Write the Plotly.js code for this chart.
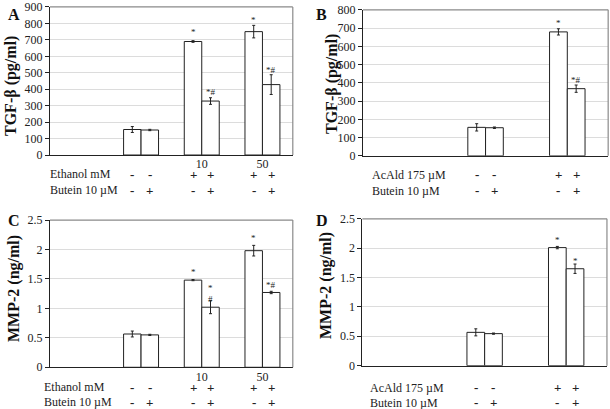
<!DOCTYPE html>
<html><head><meta charset="utf-8">
<script src="https://cdn.plot.ly/plotly-3.0.1.min.js"></script>
<style>html,body{margin:0;padding:0;background:#fff}#chart{width:610px;height:409px}</style>
</head><body><div id="chart"></div>
<script>
// ---------- data ----------
const ethCats = ["none", "control", "10", "50"];
const ethTickText = ["", "", "10", "50"];
const acCats = ["none", "control", "AcAld"];
const acTickText = ["", "", ""];

// Panel A: TGF-beta, ethanol
const tgfEthNoButein = [null, 155, 690, 750];
const tgfEthNoButeinErr = [0, 18, 5, 38];
const tgfEthButein = [null, 152, 328, 428];
const tgfEthButeinErr = [0, 4, 20, 60];
// Panel B: TGF-beta, acetaldehyde
const tgfAcNoButein = [null, 156, 679];
const tgfAcNoButeinErr = [0, 20, 17];
const tgfAcButein = [null, 154, 368];
const tgfAcButeinErr = [0, 4, 20];
// Panel C: MMP-2, ethanol
const mmpEthNoButein = [null, 0.565, 1.48, 1.98];
const mmpEthNoButeinErr = [0, 0.05, 0.01, 0.09];
const mmpEthButein = [null, 0.55, 1.02, 1.27];
const mmpEthButeinErr = [0, 0.01, 0.11, 0.02];
// Panel D: MMP-2, acetaldehyde
const mmpAcNoButein = [null, 0.567, 2.01];
const mmpAcNoButeinErr = [0, 0.06, 0.02];
const mmpAcButein = [null, 0.545, 1.65];
const mmpAcButeinErr = [0, 0.01, 0.08];

// significance marks [category index, series (0 = no butein, 1 = butein), label, y]
const sigA = [[2, 0, "*", 748], [2, 1, "*#", 386], [3, 0, "*", 819], [3, 1, "*#", 514]];
const sigB = [[2, 0, "*", 727], [2, 1, "*#", 415]];
const sigC = [[2, 0, "*", 1.61], [2, 1, "*", 1.34], [2, 1, "#", 1.16], [3, 0, "*", 2.19], [3, 1, "*#", 1.40]];
const sigD = [[2, 0, "*", 2.14], [2, 1, "*", 1.78]];

// treatment rows under the axes: per category, [no-butein bar sign, butein bar sign]
const ethRowEthanol = [["", ""], ["-", "-"], ["+", "+"], ["+", "+"]];
const ethRowButein = [["", ""], ["-", "+"], ["-", "+"], ["-", "+"]];
const acRowAcAld = [["", ""], ["-", "-"], ["+", "+"]];
const acRowButein = [["", ""], ["-", "+"], ["-", "+"]];
const rowLabelsEth = ["Ethanol mM", "Butein 10 \u00b5M"];
const rowLabelsAc = ["AcAld 175 \u00b5M", "Butein 10 \u00b5M"];
const yTitles = ["TGF-\u03b2 (pg/ml)", "MMP-2 (ng/ml)"];
const panelLetters = ["A", "B", "C", "D"];

// ---------- layout helpers ----------
const SERIF = "Liberation Serif";
const panels = [
  {ax: "", cats: ethCats, tt: ethTickText, a: tgfEthNoButein, ae: tgfEthNoButeinErr, b: tgfEthButein, be: tgfEthButeinErr,
   bw: 0.288, xd: [0.082, 0.480], yd: [0.621, 0.983], yr: [0, 900], dt: 100, sig: sigA,
   rows: [ethRowEthanol, ethRowButein], rowLab: rowLabelsEth, labX: 48, rowY: [-19, -35],
   letter: [14, 14], title: yTitles[0], titleX: 11, titleY: 86},
  {ax: "2", cats: acCats, tt: acTickText, a: tgfAcNoButein, ae: tgfAcNoButeinErr, b: tgfAcButein, be: tgfAcButeinErr,
   bw: 0.217, xd: [0.595, 0.997], yd: [0.619, 0.976], yr: [0, 800], dt: 100, sig: sigB,
   rows: [acRowAcAld, acRowButein], rowLab: rowLabelsAc, labX: 370, rowY: [-19, -35],
   letter: [321, 14], title: yTitles[0], titleX: 332, titleY: 84},
  {ax: "3", cats: ethCats, tt: ethTickText, a: mmpEthNoButein, ae: mmpEthNoButeinErr, b: mmpEthButein, be: mmpEthButeinErr,
   bw: 0.288, xd: [0.082, 0.480], yd: [0.102, 0.462], yr: [0, 2.5], dt: 0.5, sig: sigC,
   rows: [ethRowEthanol, ethRowButein], rowLab: rowLabelsEth, labX: 42, rowY: [-20, -35],
   letter: [14, 220], title: yTitles[1], titleX: 14, titleY: 289},
  {ax: "4", cats: acCats, tt: acTickText, a: mmpAcNoButein, ae: mmpAcNoButeinErr, b: mmpAcButein, be: mmpAcButeinErr,
   bw: 0.217, xd: [0.594, 0.995], yd: [0.106, 0.465], yr: [0, 2.5], dt: 0.5, sig: sigD,
   rows: [acRowAcAld, acRowButein], rowLab: rowLabelsAc, labX: 368, rowY: [-22, -37],
   letter: [322, 220], title: yTitles[1], titleX: 326, titleY: 286}
];

const W = 610, H = 409;
const data = [], annotations = [], shapes = [];
const layout = {
  width: W, height: H, margin: {l: 0, r: 0, t: 0, b: 0},
  paper_bgcolor: "#fff", plot_bgcolor: "#fff", showlegend: false,
  barmode: "overlay", font: {family: SERIF, size: 12, color: "#222"}
};

panels.forEach((p, pi) => {
  const xa = "x" + p.ax, ya = "y" + p.ax;
  const barStyle = {color: "#fff", line: {color: "#222", width: 1}};
  [[p.a, p.ae, -p.bw], [p.b, p.be, 0]].forEach(([vals, errs, off]) => {
    data.push({
      type: "bar", x: p.cats, y: vals, xaxis: xa, yaxis: ya,
      width: p.bw, offset: off, marker: barStyle,
      error_y: {type: "data", array: errs, visible: true, color: "#222", thickness: 1, width: 1.5},
      hoverinfo: "skip"
    });
  });
  const xk = "xaxis" + p.ax, yk = "yaxis" + p.ax;
  layout[xk] = {
    domain: p.xd, anchor: ya, type: "category", categoryorder: "array", categoryarray: p.cats,
    range: [-0.5, p.cats.length - 0.5], tickmode: "array", tickvals: p.cats, ticktext: p.tt,
    showline: true, linecolor: "#222", linewidth: 1, ticks: "", showgrid: false, zeroline: false,
    tickfont: {family: SERIF, size: 12, color: "#222"}, ticklabelstandoff: -2, fixedrange: true
  };
  layout[yk] = {
    domain: p.yd, anchor: xa, range: p.yr, dtick: p.dt, tick0: 0,
    showline: true, linecolor: "#222", linewidth: 1, ticks: "outside", ticklen: 4, tickcolor: "#222",
    showgrid: true, gridcolor: "#dcdcdc", gridwidth: 1, zeroline: false,
    tickfont: {family: SERIF, size: 12, color: "#222"}, fixedrange: true
  };
  // grey frame on top and right
  shapes.push({type: "line", xref: xa + " domain", yref: ya + " domain", x0: 0, x1: 1, y0: 1, y1: 1, line: {color: "#8a8a8a", width: 1.2}});
  shapes.push({type: "line", xref: xa + " domain", yref: ya + " domain", x0: 1, x1: 1, y0: 0, y1: 1, line: {color: "#8a8a8a", width: 1.2}});

  // significance marks
  p.sig.forEach(([ci, s, lab, yv]) => {
    annotations.push({xref: xa, yref: ya, x: ci + (s === 0 ? -p.bw / 2 : p.bw / 2), y: yv, text: lab,
      showarrow: false, font: {family: SERIF, size: 9, color: "#222"}, yanchor: "middle"});
  });
  // treatment rows
  p.rows.forEach((row, ri) => {
    annotations.push({xref: "paper", yref: ya + " domain", x: p.labX / W, y: 0, yshift: p.rowY[ri],
      text: p.rowLab[ri], showarrow: false, xanchor: "left", yanchor: "middle",
      font: {family: SERIF, size: 12, color: "#222"}});
    row.forEach((pair, ci) => {
      pair.forEach((sign, s) => {
        if (!sign) return;
        annotations.push({xref: xa, yref: ya + " domain", x: ci + (s === 0 ? -p.bw / 2 : p.bw / 2), y: 0,
          yshift: p.rowY[ri], text: "<b>" + sign + "</b>", showarrow: false, yanchor: "middle",
          font: {family: SERIF, size: 13, color: "#222"}});
      });
    });
  });
  // y-axis title
  annotations.push({xref: "paper", yref: "paper", x: p.titleX / W, y: 1 - p.titleY / H, text: "<b>" + p.title + "</b>",
    textangle: -90, showarrow: false, xanchor: "center", yanchor: "middle",
    font: {family: SERIF, size: 16, color: "#111"}});
  // panel letter
  annotations.push({xref: "paper", yref: "paper", x: p.letter[0] / W, y: 1 - p.letter[1] / H, text: "<b>" + panelLetters[pi] + "</b>",
    showarrow: false, xanchor: "center", yanchor: "middle", font: {family: SERIF, size: 16, color: "#111"}});
});
layout.annotations = annotations;
layout.shapes = shapes;

Plotly.newPlot("chart", data, layout, {staticPlot: true, displayModeBar: false});
</script></body></html>
